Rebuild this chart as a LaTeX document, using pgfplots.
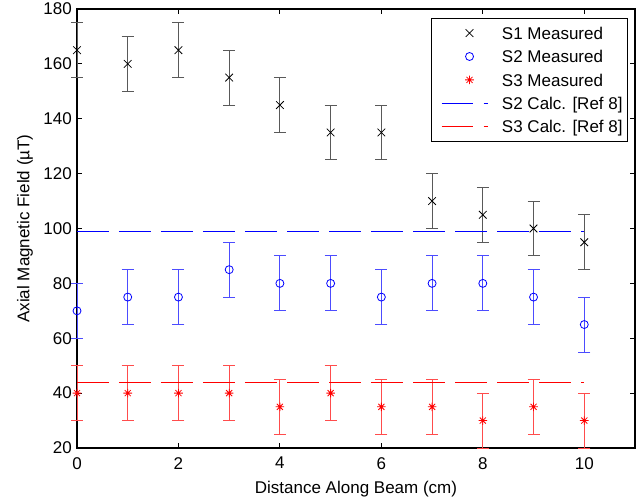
\documentclass[border=0pt]{standalone}
\usepackage{fontspec}
\setmainfont{Liberation Sans}
\usepackage{pgfplots}
\pgfplotsset{compat=1.18}
\pgfdeclareplotmark{mstar}{%
 \pgfpathmoveto{\pgfqpoint{-\pgfplotmarksize}{0pt}}\pgfpathlineto{\pgfqpoint{\pgfplotmarksize}{0pt}}%
 \pgfpathmoveto{\pgfqpoint{0pt}{-\pgfplotmarksize}}\pgfpathlineto{\pgfqpoint{0pt}{\pgfplotmarksize}}%
 \pgfpathmoveto{\pgfqpoint{-.7071\pgfplotmarksize}{-.7071\pgfplotmarksize}}\pgfpathlineto{\pgfqpoint{.7071\pgfplotmarksize}{.7071\pgfplotmarksize}}%
 \pgfpathmoveto{\pgfqpoint{-.7071\pgfplotmarksize}{.7071\pgfplotmarksize}}\pgfpathlineto{\pgfqpoint{.7071\pgfplotmarksize}{-.7071\pgfplotmarksize}}%
 \pgfusepathqstroke}
\pgfplotsset{
 markleg/.style={legend image code/.code={\path[draw=none,fill=none] (-5pt,0pt) rectangle (46pt,0.1pt); \draw[##1,draw=none] plot[mark options={draw=.}] coordinates {(28pt,0pt)};}},
 lineleg/.style={legend image code/.code={\path[draw=none,fill=none] (-5pt,0pt) rectangle (0pt,0.1pt); \draw[##1] (0pt,0pt) -- (46pt,0pt);}},
}
\begin{document}
\begin{tikzpicture}
\useasboundingbox (-77pt,-56pt) rectangle (564pt,448pt);
\begin{axis}[
 at={(0pt,0pt)}, anchor=south west,
 scale only axis, width=558pt, height=439pt,
 xmin=0, xmax=11, ymin=20, ymax=180,
 xtick={0,2,...,10}, ytick={20,40,...,180},
 minor tick num=0,
 tick align=inside, tick pos=both,
 major tick length=5pt,
 every tick/.style={black, line width=0.9pt},
 axis line style={line width=1.2pt},
 font=\fontsize{17}{20}\selectfont,
 /pgf/number format/assume math mode=true,
 ticklabel style={font=\fontsize{17}{20}\selectfont, inner sep=0pt},
 xticklabel style={anchor=north, yshift=-9pt},
 yticklabel style={anchor=east, xshift=-5pt},
 xlabel={Distance Along Beam (cm)},
 ylabel={Axial Magnetic Field (µT)},
 xlabel style={at={(axis description cs:0.5,-0.0935)}, anchor=center},
 ylabel style={at={(axis description cs:-0.0932,0.5)}, anchor=center},
 clip=false,
 legend cell align=left,
 legend style={at={(1,1)}, anchor=north east, xshift=-7pt, yshift=-9pt,
   draw=black, line width=0.8pt, inner xsep=5pt, inner ysep=3pt,
   font=\fontsize{17}{20}\selectfont,
   nodes={inner sep=0pt, text height=17.9pt, text depth=5.5pt},
   column sep=14pt, cells={anchor=west}},
]
\addplot[black, only marks, mark=x, mark size=5.4pt, mark options={line width=0.8pt}, markleg,
 error bars/.cd, y dir=both, y explicit,
 error bar style={black!65, line width=0.9pt},
 error mark options={rotate=90, black!65, mark size=6pt, line width=0.9pt}]
 coordinates {(0,165) +- (0,10) (1,160) +- (0,10) (2,165) +- (0,10) (3,155) +- (0,10)
  (4,145) +- (0,10) (5,135) +- (0,10) (6,135) +- (0,10) (7,110) +- (0,10)
  (8,105) +- (0,10) (9,100) +- (0,10) (10,95) +- (0,10)};
\addlegendentry{S1 Measured}
\addplot[blue, only marks, mark=o, mark size=4pt, mark options={line width=0.8pt}, markleg,
 error bars/.cd, y dir=both, y explicit,
 error bar style={blue!70, line width=0.9pt},
 error mark options={rotate=90, blue!70, mark size=6pt, line width=0.9pt}]
 coordinates {(0,70) +- (0,10) (1,75) +- (0,10) (2,75) +- (0,10) (3,85) +- (0,10)
  (4,80) +- (0,10) (5,80) +- (0,10) (6,75) +- (0,10) (7,80) +- (0,10)
  (8,80) +- (0,10) (9,75) +- (0,10) (10,65) +- (0,10)};
\addlegendentry{S2 Measured}
\addplot[red, only marks, mark=mstar, mark size=4.3pt, mark options={line width=0.8pt}, markleg,
 error bars/.cd, y dir=both, y explicit,
 error bar style={red!70, line width=0.9pt},
 error mark options={rotate=90, red!70, mark size=6pt, line width=0.9pt}]
 coordinates {(0,40) +- (0,10) (1,40) +- (0,10) (2,40) +- (0,10) (3,40) +- (0,10)
  (4,35) +- (0,10) (5,40) +- (0,10) (6,35) +- (0,10) (7,35) +- (0,10)
  (8,30) +- (0,10) (9,35) +- (0,10) (10,30) +- (0,10)};
\addlegendentry{S3 Measured}
\addplot[blue, no marks, line width=0.9pt, dash pattern=on 31.7pt off 10.3pt, lineleg]
 coordinates {(0,99) (10,99)};
\addlegendentry{S2 Calc. [Ref 8]}
\addplot[red, no marks, line width=0.9pt, dash pattern=on 31.7pt off 10.3pt, lineleg]
 coordinates {(0,44) (10,44)};
\addlegendentry{S3 Calc. [Ref 8]}
\end{axis}
\end{tikzpicture}
\end{document}
